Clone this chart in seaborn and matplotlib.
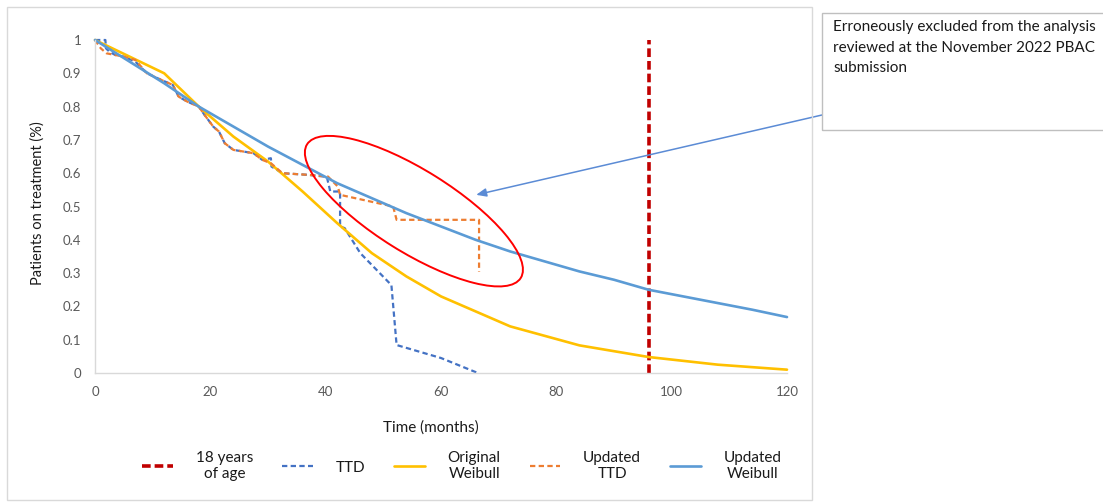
import matplotlib
matplotlib.use("Agg")
import matplotlib.pyplot as plt
import seaborn as sns
import pandas as pd
from matplotlib.patches import Rectangle, Ellipse
from matplotlib.transforms import IdentityTransform

# ---------------- data ----------------
weib_upd_x = [0, 6, 12, 18, 24, 30, 36, 42, 48, 54, 60, 66, 72, 78, 84, 90, 96, 102, 108, 114, 120]
weib_upd_y = [1.0, 0.935, 0.87, 0.80, 0.74, 0.68, 0.625, 0.57, 0.525, 0.48, 0.44, 0.40, 0.365,
              0.335, 0.305, 0.28, 0.25, 0.23, 0.21, 0.19, 0.168]

weib_orig_x = [0, 6, 12, 18, 24, 30, 36, 42, 48, 54, 60, 66, 72, 84, 96, 108, 120]
weib_orig_y = [1.0, 0.95, 0.9, 0.80, 0.71, 0.635, 0.545, 0.45, 0.36, 0.29, 0.23, 0.185, 0.14,
               0.083, 0.048, 0.025, 0.01]

ttd_x = [0, 1.8, 1.9, 2.5, 3.5, 5, 7, 9, 11.5, 13.5, 14.5, 16, 18, 19, 20.5, 21.5, 22.5, 24,
         27.5, 29, 30.5, 30.6, 32.5, 37, 40.2, 40.8, 42.5, 42.5, 43.3, 46, 51.4, 52.3, 60, 66.4]
ttd_y = [1.0, 1.0, 0.975, 0.965, 0.955, 0.95, 0.935, 0.9, 0.88, 0.865, 0.83, 0.815, 0.80, 0.775,
         0.74, 0.725, 0.69, 0.67, 0.66, 0.64, 0.645, 0.62, 0.60, 0.595, 0.589, 0.545, 0.545, 0.44,
         0.435, 0.36, 0.264, 0.084, 0.045, 0.0]

ttd_upd_x = [0, 1, 2, 3.5, 5, 7, 9, 11.5, 13.5, 14.5, 16, 18, 19, 20.5, 21.5, 22.5, 24, 27.5,
             29, 30.5, 32.5, 37, 40.4, 42.1, 42.5, 51.7, 52.3, 66.6, 66.6]
ttd_upd_y = [1.0, 0.975, 0.96, 0.955, 0.95, 0.94, 0.9, 0.88, 0.865, 0.83, 0.815, 0.80, 0.775,
             0.74, 0.725, 0.69, 0.67, 0.66, 0.64, 0.63, 0.60, 0.595, 0.59, 0.56, 0.535, 0.50,
             0.46, 0.46, 0.304]

age18_x = [96, 96]
age18_y = [0, 1]

x_ticks = [0, 20, 40, 60, 80, 100, 120]
y_ticks = [0, 0.1, 0.2, 0.3, 0.4, 0.5, 0.6, 0.7, 0.8, 0.9, 1]
y_tick_labels = ["0", "0.1", "0.2", "0.3", "0.4", "0.5", "0.6", "0.7", "0.8", "0.9", "1"]

# ---------------- style ----------------
sns.set_style("white")
plt.rcParams['font.family'] = ['Lato', 'DejaVu Sans']

W, H = 1103, 503
fig = plt.figure(figsize=(W / 100, H / 100), dpi=100)
ax = fig.add_axes([95 / W, 1 - 373 / H, (787 - 95) / W, (373 - 40) / H])

# outer chart border
fig.patches.append(Rectangle((7 / W, 3 / H), (812 - 7) / W, (500 - 7) / H, transform=fig.transFigure,
                             fill=False, edgecolor="#D9D9D9", lw=1))

def draw(x, y, **kw):
    df = pd.DataFrame({"x": x, "y": y})
    sns.lineplot(data=df, x="x", y="y", sort=False, estimator=None, ax=ax, clip_on=False, **kw)

draw(age18_x, age18_y, color="#C00000", lw=2.6, linestyle=(0, (2.4, 1.1)), label="18 years\nof age")
draw(ttd_x, ttd_y, color="#4472C4", lw=1.6, linestyle=(0, (2.4, 1.5)), label="TTD")
draw(weib_orig_x, weib_orig_y, color="#FFC000", lw=1.9, label="Original\nWeibull")
draw(ttd_upd_x, ttd_upd_y, color="#ED7D31", lw=1.6, linestyle=(0, (2.4, 1.5)), label="Updated\nTTD")
draw(weib_upd_x, weib_upd_y, color="#5B9BD5", lw=1.9, label="Updated\nWeibull")

ax.set_xlim(0, 120)
ax.set_ylim(0, 1)
ax.set_xticks(x_ticks)
ax.set_yticks(y_ticks)
ax.set_yticklabels(y_tick_labels)
ax.tick_params(axis="both", length=0, labelsize=9.5, labelcolor="#595959")
ax.tick_params(axis="x", pad=9)
ax.tick_params(axis="y", pad=10)
for s in ["top", "right"]:
    ax.spines[s].set_visible(False)
for s in ["left", "bottom"]:
    ax.spines[s].set_color("#D9D9D9")
    ax.spines[s].set_linewidth(1)
ax.patch.set_alpha(0)

ax.set_xlabel("Time (months)", fontsize=11, color="#1a1a1a")
ax.set_ylabel("Patients on treatment (%)", fontsize=10.5, color="#1a1a1a")
ax.xaxis.set_label_coords((431 - 95) / (787 - 95), -(420 - 373) / (373 - 40))
ax.yaxis.set_label_coords(-(95 - 45) / (787 - 95), (373 - 203) / (373 - 40))

# legend
leg = ax.legend(loc="center", bbox_to_anchor=(462 / W, 1 - 466 / H), bbox_transform=fig.transFigure,
                ncol=5, frameon=False, fontsize=11, handlelength=2.0, handletextpad=1.5,
                columnspacing=1.9)
for t in leg.get_texts():
    t.set_multialignment("center")
    t.set_color("#1a1a1a")

# red ellipse (in pixel space)
cx, cy = ax.transData.transform((55.3, 0.486))
ell = Ellipse((cx, cy), 2 * 126, 2 * 41, angle=-32, transform=IdentityTransform(),
              fill=False, edgecolor="#FF0000", lw=1.4)
fig.patches.append(ell)

# annotation box
fig.patches.append(Rectangle((822 / W, 1 - 130 / H), (1110 - 822) / W, (130 - 13) / H,
                             transform=fig.transFigure, fill=False, edgecolor="#BFBFBF", lw=1))
fig.text(833 / W, 1 - 20 / H,
         "Erroneously excluded from the analysis\nreviewed at the November 2022 PBAC\nsubmission",
         ha="left", va="top", fontsize=11, color="#1a1a1a", linespacing=1.6)

ax.annotate("", xy=(66.1, 0.535), xycoords="data", xytext=(822 / W, 1 - 115 / H),
            textcoords="figure fraction",
            arrowprops=dict(arrowstyle="-|>,head_length=0.6,head_width=0.25", color="#5B8BD5", lw=1.1,
                            shrinkA=0, shrinkB=0))

fig.savefig("out.png", dpi=100)
